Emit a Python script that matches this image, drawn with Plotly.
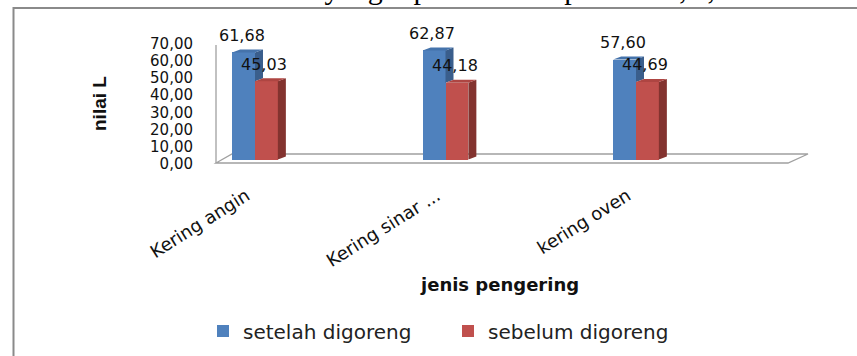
import plotly.graph_objects as go

# ---------------- data ----------------
categories = ["Kering angin", "Kering sinar ...", "kering oven"]
setelah_digoreng = [61.68, 62.87, 57.60]
sebelum_digoreng = [45.03, 44.18, 44.69]
series_names = ["setelah digoreng", "sebelum digoreng"]
y_ticks = [0, 10, 20, 30, 40, 50, 60, 70]
y_title = "nilai L"
x_title = "jenis pengering"
page_text = "serta metode UCO. Data yang diperoleh berupa nilai L, a, dan"

# ---------------- layout geometry ----------------
W, H = 857, 356
PL, PR, PT, PB = 217, 808, 30, 165          # plot area in px
PXX = 190.5                                 # px per category
PXY = 1.735                                 # px per unit (bars)
X0PX, Y0PX = 255, 159.5                     # px of category 0 / value 0
X_RANGE = [(PL - X0PX) / PXX, (PR - X0PX) / PXX]
Y_RANGE = [-(PB - Y0PX) / PXY, (Y0PX - PT) / PXY]
TPXY, T0PX = 1.721, 164                     # tick label axis calibration
T_RANGE = [-(PB - T0PX) / TPXY, (T0PX - PT) / TPXY]

def px2paper(px, py):
    return (px - PL) / (PR - PL), (PB - py) / (PB - PT)

def fmt(v):
    return f"{v:.2f}".replace(".", ",")

BW = 0.12
DX = 8 / PXX
DY = 3 / PXY
BLUE, BLUE_SIDE, BLUE_TOP = "#4F81BD", "#3A5E8C", "#4573AB"
RED, RED_SIDE, RED_TOP = "#C0504D", "#83332F", "#AE4542"
TXT = "#111111"
FONT = "DejaVu Sans"

idx = list(range(len(categories)))
xb = [i - BW / 2 for i in idx]
xr = [i + BW / 2 for i in idx]

fig = go.Figure()
fig.add_trace(go.Bar(x=xb, y=setelah_digoreng, width=BW, name=series_names[0],
                     marker=dict(color=BLUE, line=dict(width=0)), hoverinfo="skip"))
fig.add_trace(go.Bar(x=xr, y=sebelum_digoreng, width=BW, name=series_names[1],
                     marker=dict(color=RED, line=dict(width=0)), hoverinfo="skip"))

def poly_trace(polys, color):
    xs, ys = [], []
    for p in polys:
        for (a, b) in p:
            xs.append(a); ys.append(b)
        xs.append(p[0][0]); ys.append(p[0][1])
        xs.append(None); ys.append(None)
    return go.Scatter(x=xs, y=ys, mode="lines", fill="toself", fillcolor=color,
                      line=dict(width=0, color=color), showlegend=False, hoverinfo="skip")

def side_face(xc, lo, hi):
    r = xc + BW / 2
    return [(r, lo), (r, hi), (r + DX, hi + DY), (r + DX, lo + DY)]

def top_face(xc, v):
    l, r = xc - BW / 2, xc + BW / 2
    return [(l, v), (r, v), (r + DX, v + DY), (l + DX, v + DY)]

blue_sides = [side_face(xb[i], min(sebelum_digoreng[i], setelah_digoreng[i]), setelah_digoreng[i]) for i in idx]
blue_tops = [top_face(xb[i], setelah_digoreng[i]) for i in idx]
red_sides = [side_face(xr[i], 0, sebelum_digoreng[i]) for i in idx]
red_tops = [top_face(xr[i], sebelum_digoreng[i]) for i in idx]
fig.add_trace(poly_trace(blue_sides, BLUE_SIDE))
fig.add_trace(poly_trace(blue_tops, BLUE_TOP))
fig.add_trace(poly_trace(red_sides, RED_SIDE))
fig.add_trace(poly_trace(red_tops, RED_TOP))
# helper trace so the tick-label axis is drawn
fig.add_trace(go.Scatter(x=[None], y=[None], yaxis="y2", showlegend=False, hoverinfo="skip"))

annotations = []
for i in idx:
    for xc, v in ((xb[i], setelah_digoreng[i]), (xr[i], sebelum_digoreng[i])):
        annotations.append(dict(x=xc, y=v, xref="x", yref="y", text=fmt(v), showarrow=False,
                                yanchor="middle", xanchor="center", yshift=17, xshift=-2,
                                font=dict(family=FONT, size=16, color=TXT)))

ax, ay = px2paper(99, 104)
annotations.append(dict(x=ax, y=ay, xref="paper", yref="paper", text=f"<b>{y_title}</b>",
                        textangle=-90, showarrow=False, xanchor="center", yanchor="middle",
                        font=dict(family="Liberation Sans", size=19, color=TXT)))
tx, ty = px2paper(499, 284)
annotations.append(dict(x=tx, y=ty, xref="paper", yref="paper", text=f"<b>{x_title}</b>",
                        showarrow=False, xanchor="center", yanchor="middle",
                        font=dict(family=FONT, size=18, color=TXT)))
px_, py_ = px2paper(20, -11)
annotations.append(dict(x=px_, y=py_, xref="paper", yref="paper", text=page_text,
                        showarrow=False, xanchor="left", yanchor="middle",
                        font=dict(family="Liberation Serif", size=30, color="#000000")))

shapes = []
# chart border (left and top edges visible)
bx0, by0 = px2paper(13.5, 380)
bx1, by1 = px2paper(870, 8)
shapes.append(dict(type="path", xref="paper", yref="paper",
                   path=f"M {bx0} {by0} L {bx0} {by1} L {bx1} {by1}",
                   line=dict(color="#8a8a8a", width=2), layer="below"))
# floor parallelogram
fl = [px2paper(216, 163), px2paper(788, 163), px2paper(808, 154), px2paper(232, 154)]
path = "M " + " L ".join(f"{a} {b}" for a, b in fl) + " Z"
shapes.append(dict(type="path", xref="paper", yref="paper", path=path,
                   fillcolor="white", line=dict(color="#a0a0a0", width=1.3), layer="below"))
w0 = px2paper(216, 45); w1 = px2paper(216, 163)
shapes.append(dict(type="line", xref="paper", yref="paper", x0=w0[0], y0=w0[1], x1=w1[0], y1=w1[1],
                   line=dict(color="#a0a0a0", width=1.3), layer="below"))

fig.update_layout(
    template="none",
    width=W, height=H,
    margin=dict(l=PL, r=W - PR, t=PT, b=H - PB, pad=0, autoexpand=False),
    paper_bgcolor="white", plot_bgcolor="rgba(0,0,0,0)",
    font=dict(family=FONT, color=TXT),
    barmode="overlay", bargap=0,
    showlegend=True,
    legend=dict(orientation="h", xref="container", yref="container",
                x=203 / W, y=1 - 331 / H, xanchor="left", yanchor="middle",
                font=dict(family=FONT, size=20, color="#222222"),
                bgcolor="rgba(0,0,0,0)", borderwidth=0,
                entrywidth=200, entrywidthmode="pixels", itemclick=False),
    xaxis=dict(range=X_RANGE, tickvals=[i - 0.045 for i in idx], ticktext=categories, tickangle=-32,
               showgrid=False, zeroline=False, showline=False, ticks="", automargin=False,
               ticklabelstandoff=16, tickfont=dict(family=FONT, size=18, color=TXT)),
    yaxis=dict(range=Y_RANGE, showticklabels=False, showgrid=False, zeroline=False,
               showline=False, ticks="", automargin=False),
    yaxis2=dict(range=T_RANGE, overlaying="y", side="left", anchor="x", automargin=False,
                tickvals=y_ticks, ticktext=[fmt(t) for t in y_ticks],
                showgrid=False, zeroline=False, showline=False, ticks="",
                ticklabelstandoff=23, tickfont=dict(family=FONT, size=15, color=TXT)),
    annotations=annotations,
    shapes=shapes,
)

fig.write_html("out.html")
